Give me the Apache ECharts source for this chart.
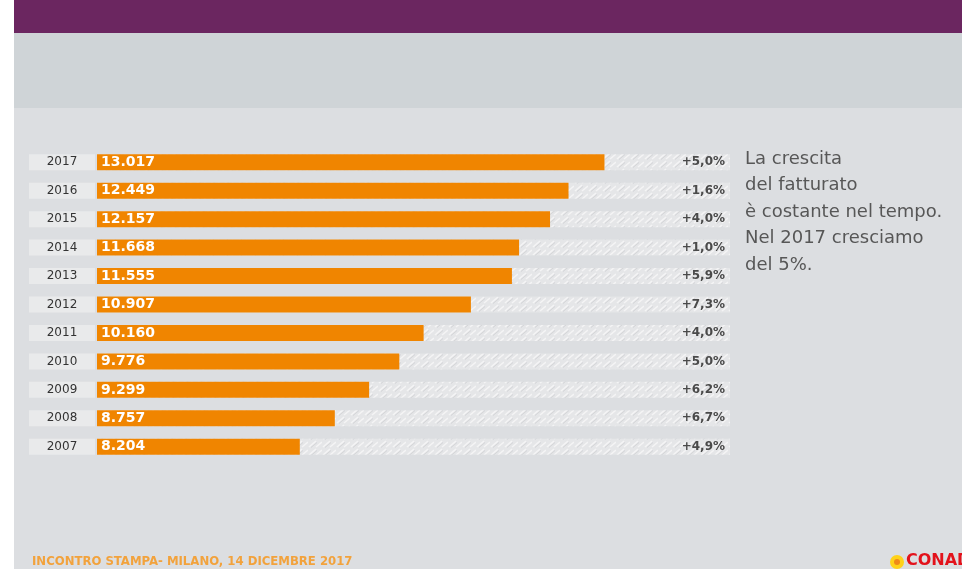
<!DOCTYPE html>
<html>
<head>
<meta charset="utf-8">
<script src="https://cdn.jsdelivr.net/npm/echarts@6/dist/echarts.min.js"></script>
<style>
  html, body { margin: 0; padding: 0; background: #dcdee1; }
  #chart { width: 962px; height: 569px; }
</style>
</head>
<body>
<div id="chart"></div>
<script>
// Fatturato per anno (milioni di euro) e crescita annua
const years = ['2007', '2008', '2009', '2010', '2011', '2012', '2013', '2014', '2015', '2016', '2017'];
const revenue = [8204, 8757, 9299, 9776, 10160, 10907, 11555, 11668, 12157, 12449, 13017];
const growth = ['+4,9%', '+6,7%', '+6,2%', '+5,0%', '+4,0%', '+7,3%', '+5,9%', '+1,0%', '+4,0%', '+1,6%', '+5,0%'];
const axisMin = 5000;
const axisMax = 15000;

const noteLines = ['La crescita', 'del fatturato', 'è costante nel tempo.', 'Nel 2017 cresciamo', 'del 5%.'];
const footerText = 'INCONTRO STAMPA- MILANO, 14 DICEMBRE 2017';

// Italian thousands separator
function fmt(v) {
  return String(v).replace(/\B(?=(\d{3})+(?!\d))/g, '.');
}

// hatched fill for the row tracks
function hatchPattern() {
  const c = document.createElement('canvas');
  c.width = 14; c.height = 8;
  const g = c.getContext('2d');
  g.fillStyle = '#e5e6e8';
  g.fillRect(0, 0, 14, 8);
  g.strokeStyle = '#f4f4f5';
  g.lineWidth = 1.6;
  g.beginPath();
  g.moveTo(1, 7); g.lineTo(8, 1);
  g.moveTo(8, 7); g.lineTo(14, 2);
  g.stroke();
  g.strokeStyle = 'rgba(190,190,192,0.55)';
  g.lineWidth = 0.8;
  g.beginPath();
  g.moveTo(3, 7.5); g.lineTo(9, 2.5);
  g.stroke();
  return c;
}

const chart = echarts.init(document.getElementById('chart'), null, { renderer: 'canvas' });

const noteGraphics = noteLines.map((t, i) => ({
  type: 'text',
  left: 745,
  top: 150 + i * 26.5,
  style: { text: t, fill: '#575757', font: '18px "DejaVu Sans", sans-serif' }
}));

chart.setOption({
  backgroundColor: '#dcdee1',
  animation: false,
  grid: { left: 97, right: 232, top: 148, bottom: 108, containLabel: false },
  xAxis: { type: 'value', min: axisMin, max: axisMax, show: false },
  yAxis: {
    type: 'category',
    data: years,
    axisLine: { show: false },
    axisTick: { show: false },
    splitLine: { show: false },
    axisLabel: {
      margin: 2,
      formatter: '{y|{value}}',
      rich: {
        y: {
          width: 66, height: 16, align: 'center',
          backgroundColor: '#e9eaeb',
          color: '#333333', fontSize: 12, fontFamily: '"DejaVu Sans", sans-serif'
        }
      }
    }
  },
  series: [
    {
      type: 'bar',
      barWidth: 16,
      barGap: '-100%',
      silent: true,
      data: years.map(() => axisMax),
      itemStyle: { color: { image: hatchPattern(), repeat: 'repeat' } },
      label: {
        show: true,
        position: 'insideRight',
        distance: 5,
        formatter: p => growth[p.dataIndex],
        color: '#4a4a4a',
        fontSize: 12,
        fontWeight: 'bold',
        fontFamily: '"DejaVu Sans", sans-serif'
      },
      z: 1
    },
    {
      type: 'bar',
      barWidth: 16,
      barGap: '-100%',
      data: revenue,
      itemStyle: { color: '#f08500' },
      label: {
        show: true,
        position: 'insideLeft',
        distance: 4,
        formatter: p => fmt(p.value),
        color: '#ffffff',
        fontSize: 14,
        fontWeight: 'bold',
        fontFamily: '"DejaVu Sans", sans-serif'
      },
      z: 2
    }
  ],
  graphic: [
    { type: 'rect', left: 0, top: 0, shape: { width: 14, height: 569 }, style: { fill: '#ffffff' }, z: -10 },
    { type: 'rect', left: 14, top: 0, shape: { width: 948, height: 33 }, style: { fill: '#6b2660' }, z: -10 },
    { type: 'rect', left: 14, top: 33, shape: { width: 948, height: 75 }, style: { fill: '#cfd4d7' }, z: -10 },
    ...noteGraphics,
    {
      type: 'text', left: 32, top: 555,
      style: { text: footerText, fill: '#f2a23c', font: 'bold 13px "DejaVu Sans Condensed", sans-serif' }
    },
    { type: 'circle', shape: { cx: 897, cy: 562, r: 7 }, style: { fill: '#ffd21a' } },
    { type: 'circle', shape: { cx: 897, cy: 562, r: 3 }, style: { fill: '#f08a1a' } },
    {
      type: 'text', left: 906, top: 553,
      style: { text: 'CONAD', fill: '#e3121b', font: 'bold 16px "DejaVu Sans", sans-serif' }
    }
  ]
});
</script>
</body>
</html>
